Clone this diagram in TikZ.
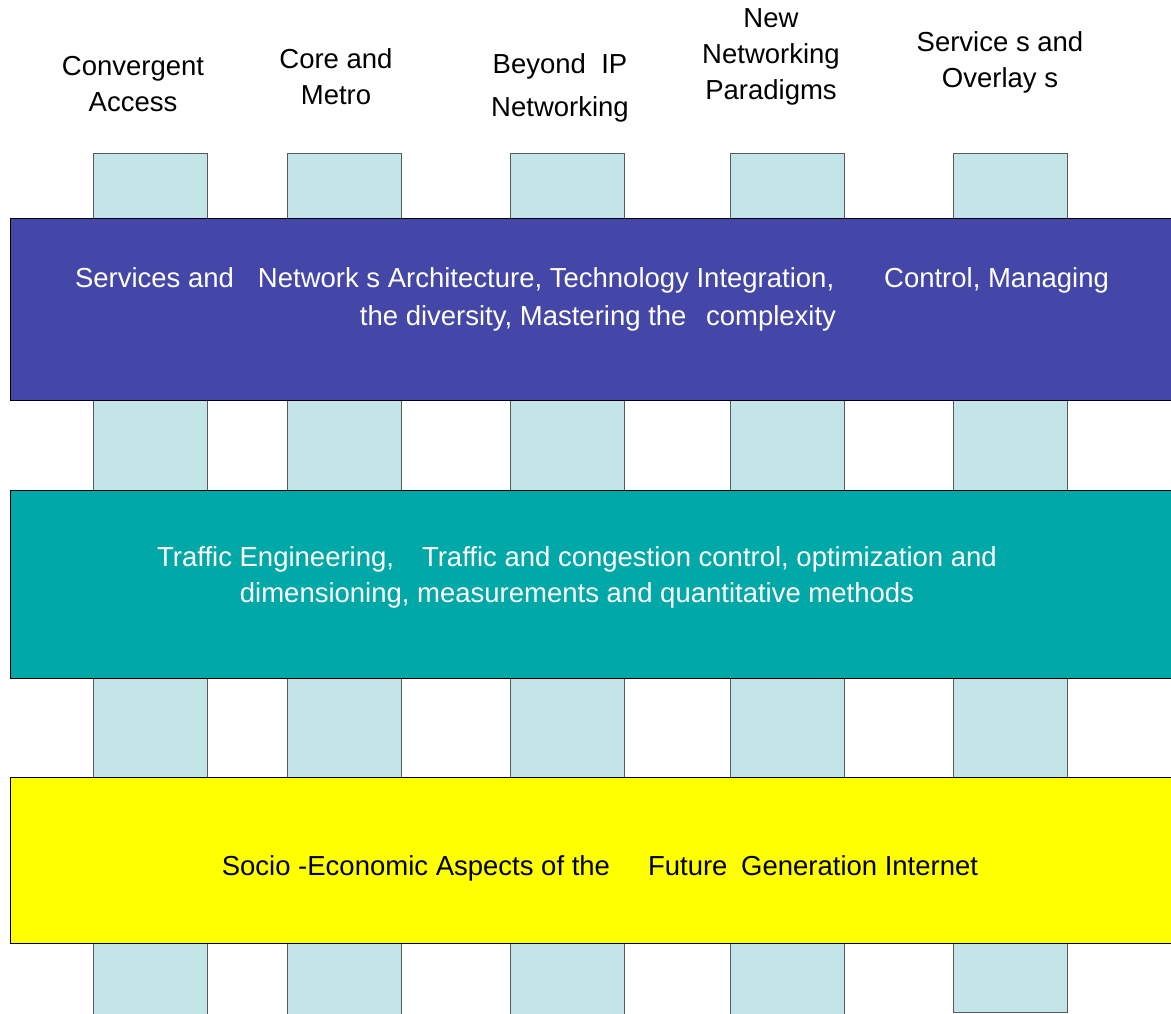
\documentclass[tikz,border=0pt]{standalone}
\usepackage{fontspec}
\setmainfont{Liberation Sans}
\usepackage{tikz}
\usetikzlibrary{positioning}
\definecolor{pillar}{HTML}{C4E5E8}
\definecolor{archband}{HTML}{4547A8}
\definecolor{trafficband}{HTML}{00A8A8}
\definecolor{socioband}{HTML}{FFFF00}

\begin{document}
\begin{tikzpicture}[
    x=1pt, y=-1pt,
    align=center,
    every node/.style={inner sep=0pt, font=\fontsize{27.5}{36}\selectfont},
    pillarbox/.style={draw=black!65, fill=pillar, minimum width=114pt, anchor=north},
    bandbox/.style={draw=black, minimum width=1175pt, anchor=north west},
    toplabel/.style={text=black},
    bandlabel/.style={text=white}
]
    \useasboundingbox (0,0) rectangle (1171,1014);
    \clip (0,0) rectangle (1171,1014);

    % Pillars
    \node (access) [pillarbox, minimum height=870pt] at (150,153) {};
    \node (core) [pillarbox, minimum height=870pt] at (344,153) {};
    \node (beyond) [pillarbox, minimum height=870pt] at (567,153) {};
    \node (paradigms) [pillarbox, minimum height=870pt] at (787,153) {};
    \node (overlays) [pillarbox, minimum height=859pt] at (1010,153) {};

    % Pillar titles
    \node (accesstitle) [toplabel] at (133,84) {Convergent\\Access};
    \node (coretitle) [toplabel] at (336,77) {Core and\\Metro};
    \node (beyondtitle) [toplabel, font=\fontsize{27.5}{43}\selectfont] at (560,88) {Beyond \ IP\\Networking};
    \node (paradigmstitle) [toplabel] at (771,57) {New\\Networking\\Paradigms};
    \node (overlaystitle) [toplabel] at (1000,62) {Service s and\\Overlay s};

    % Bands
    \node (arch) [bandbox, fill=archband, minimum height=182pt] at (9.5,218) {};
    \node (traffic) [bandbox, fill=trafficband, minimum height=188pt] at (9.5,490) {};
    \node (socio) [bandbox, fill=socioband, minimum height=166pt] at (9.5,777) {};

    % Band texts
    \node (archtext) [bandlabel, font=\fontsize{27.5}{38}\selectfont] at (592,299)
        {Services and\hspace{24pt}Network s Architecture, Technology Integration,\hspace{50pt}Control, Managing\\
         \hspace*{12pt}the diversity, Mastering the\hspace{12pt} complexity};
    \node (traffictext) [bandlabel] at (577,577)
        {Traffic Engineering,\hspace{28pt}Traffic and congestion control, optimization and\\
         dimensioning, measurements and quantitative methods};
    \node (sociotext) [text=black] at (600,868)
        {Socio -Economic Aspects of the\hspace{38pt}Future\hspace{6pt} Generation Internet};
\end{tikzpicture}
\end{document}
